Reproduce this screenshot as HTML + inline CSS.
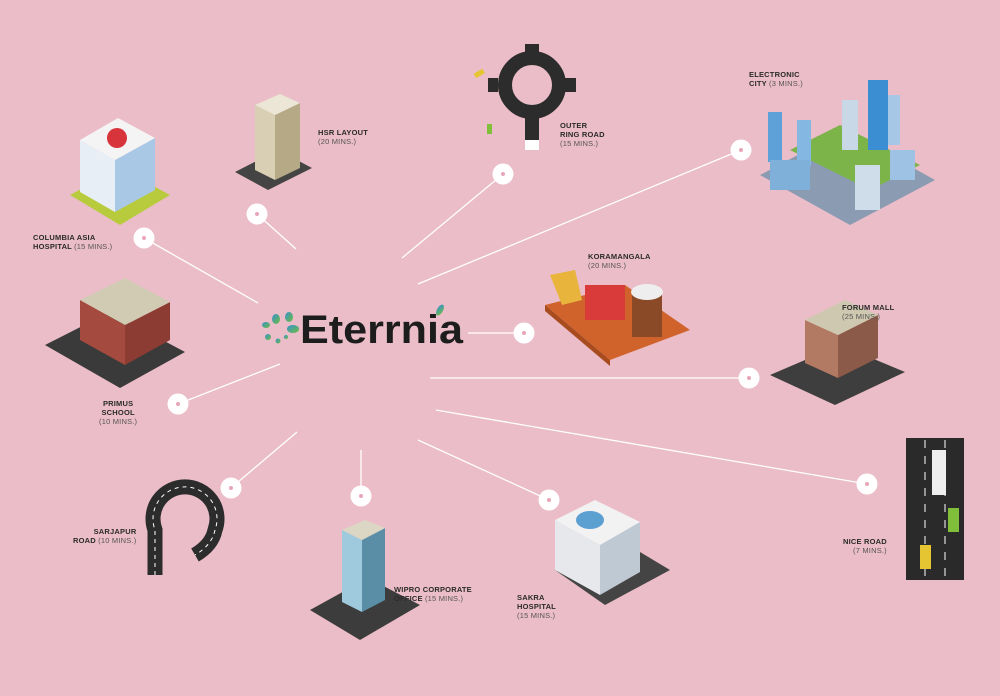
<!DOCTYPE html>
<html><head><meta charset="utf-8"><style>
html,body{margin:0;padding:0}
body{width:1000px;height:696px;background:#ebbdc8;overflow:hidden;position:relative;font-family:"Liberation Sans",sans-serif}
svg{position:absolute;left:0;top:0}
.l{position:absolute;font-size:7.5px;line-height:9px;color:#2b2b2b;font-weight:bold;letter-spacing:.2px}
.l span{font-weight:normal;color:#555}
</style></head><body>
<svg width="1000" height="696" viewBox="0 0 1000 696">
<defs>
<linearGradient id="g" x1="0" y1="0" x2="1" y2="1"><stop offset="0" stop-color="#3a8fd0"/><stop offset="1" stop-color="#6cbf3f"/></linearGradient>
</defs>
<g stroke="#fff" stroke-width="1.3" fill="none">
<line x1="144" y1="238" x2="258" y2="303"/>
<line x1="257" y1="214" x2="296" y2="249"/>
<line x1="503" y1="174" x2="402" y2="258"/>
<line x1="741" y1="150" x2="418" y2="284"/>
<line x1="468" y1="333" x2="524" y2="333"/>
<line x1="430" y1="378" x2="749" y2="378"/>
<line x1="436" y1="410" x2="867" y2="484"/>
<line x1="418" y1="440" x2="549" y2="500"/>
<line x1="361" y1="450" x2="361" y2="496"/>
<line x1="297" y1="432" x2="231" y2="488"/>
<line x1="280" y1="364" x2="178" y2="404"/>
</g>
<g fill="#fff">
<circle cx="144" cy="238" r="10.5"/><circle cx="257" cy="214" r="10.5"/><circle cx="503" cy="174" r="10.5"/>
<circle cx="741" cy="150" r="10.5"/><circle cx="524" cy="333" r="10.5"/><circle cx="749" cy="378" r="10.5"/>
<circle cx="867" cy="484" r="10.5"/><circle cx="549" cy="500" r="10.5"/><circle cx="361" cy="496" r="10.5"/>
<circle cx="231" cy="488" r="10.5"/><circle cx="178" cy="404" r="10.5"/>
</g>
<g fill="#e7a6b7">
<circle cx="144" cy="238" r="2"/><circle cx="257" cy="214" r="2"/><circle cx="503" cy="174" r="2"/>
<circle cx="741" cy="150" r="2"/><circle cx="524" cy="333" r="2"/><circle cx="749" cy="378" r="2"/>
<circle cx="867" cy="484" r="2"/><circle cx="549" cy="500" r="2"/><circle cx="361" cy="496" r="2"/>
<circle cx="231" cy="488" r="2"/><circle cx="178" cy="404" r="2"/>
</g>
<g fill="url(#g)">
<ellipse cx="276" cy="319" rx="4" ry="5"/><ellipse cx="289" cy="317" rx="4" ry="5"/>
<ellipse cx="266" cy="325" rx="4" ry="3"/><ellipse cx="293" cy="329" rx="6" ry="4"/>
<circle cx="268" cy="337" r="3"/><circle cx="278" cy="341" r="2.5"/><circle cx="286" cy="337" r="2"/>
<ellipse cx="440" cy="310" rx="3" ry="6" transform="rotate(30 440 310)"/>
</g>
<text x="300" y="343" font-family="Liberation Sans,sans-serif" font-size="40" font-weight="bold" fill="#1d1d1d" textLength="163" lengthAdjust="spacingAndGlyphs">Eterrnia</text>
<polygon points="70,195 120,225 170,195 120,168" fill="#b7cb3d"/>
<polygon points="80,140 115,160 115,212 80,192" fill="#e8eef5"/>
<polygon points="115,160 155,138 155,190 115,212" fill="#a9c8e6"/>
<polygon points="80,140 118,118 155,138 115,160" fill="#f4f4f4"/>
<circle cx="117" cy="138" r="10" fill="#d8343b"/>
<polygon points="235,172 268,190 312,168 278,150" fill="#444"/>
<polygon points="255,105 275,115 275,180 255,170" fill="#d8cfb5"/>
<polygon points="275,115 300,103 300,168 275,180" fill="#b5a986"/>
<polygon points="255,105 280,94 300,103 275,115" fill="#ece6d6"/>
<circle cx="532" cy="85" r="27" fill="none" stroke="#2c2c2c" stroke-width="14"/>
<rect x="488" y="78" width="10" height="14" fill="#2c2c2c"/><rect x="564" y="78" width="12" height="14" fill="#2c2c2c"/>
<rect x="525" y="110" width="14" height="30" fill="#2c2c2c"/><rect x="525" y="44" width="14" height="10" fill="#2c2c2c"/>
<rect x="525" y="140" width="14" height="10" fill="#fff"/>
<rect x="474" y="71" width="10" height="5" fill="#e6c532" transform="rotate(-30 479 73)"/>
<rect x="487" y="124" width="5" height="10" fill="#7fbf3a"/>
<polygon points="760,175 850,225 935,180 845,130" fill="#8a9bb2"/>
<polygon points="790,150 870,190 920,165 840,125" fill="#7cb44a"/>
<rect x="768" y="112" width="14" height="50" fill="#5ea0d8"/><rect x="797" y="120" width="14" height="46" fill="#84b8e2"/>
<rect x="842" y="100" width="16" height="50" fill="#c9d8e6"/><rect x="868" y="80" width="20" height="70" fill="#3c8ed3"/>
<rect x="888" y="95" width="12" height="50" fill="#a6c7e6"/><rect x="770" y="160" width="40" height="30" fill="#7fb0da"/>
<rect x="855" y="165" width="25" height="45" fill="#cfdcea"/><rect x="890" y="150" width="25" height="30" fill="#9ec2e4"/>
<polygon points="545,305 610,360 690,330 625,285" fill="#d0632c"/>
<polygon points="545,305 610,360 610,366 545,311" fill="#a84c20"/>
<polygon points="550,275 575,270 582,300 562,305" fill="#e8b43c"/>
<rect x="585" y="285" width="40" height="35" fill="#d93b3b"/>
<rect x="632" y="292" width="30" height="45" fill="#8a4a28"/><ellipse cx="647" cy="292" rx="16" ry="8" fill="#eee"/>
<polygon points="770,375 835,405 905,372 840,345" fill="#3e3e3e"/>
<polygon points="805,320 838,335 838,378 805,363" fill="#b27a63"/>
<polygon points="838,335 878,315 878,358 838,378" fill="#8b5a48"/>
<polygon points="805,320 845,300 878,315 838,335" fill="#cfc8b0"/>
<polygon points="45,345 120,388 185,352 110,312" fill="#3a3a3a"/>
<polygon points="80,300 125,325 125,365 80,340" fill="#a44a3f"/>
<polygon points="125,325 170,302 170,340 125,365" fill="#8d3c33"/>
<polygon points="80,300 125,278 170,302 125,325" fill="#d2cbb4"/>
<path d="M155,575 L155,530 A32,32 0 1 1 215,530 Q212,545 195,555" fill="none" stroke="#2c2c2c" stroke-width="15"/>
<path d="M155,575 L155,530 A32,32 0 1 1 215,530 Q212,545 195,555" fill="none" stroke="#fff" stroke-width="1" stroke-dasharray="4 4"/>
<polygon points="310,610 360,640 420,605 368,578" fill="#3c3c3c"/>
<polygon points="342,530 362,540 362,612 342,602" fill="#9fc9dc"/>
<polygon points="362,540 385,528 385,600 362,612" fill="#5a8ea6"/>
<polygon points="342,530 365,520 385,528 362,540" fill="#dcd6c4"/>
<polygon points="555,570 605,605 670,570 620,540" fill="#444"/>
<polygon points="555,520 600,545 600,595 555,570" fill="#e6e8ec"/>
<polygon points="600,545 640,522 640,572 600,595" fill="#bfc9d4"/>
<polygon points="555,520 595,500 640,522 600,545" fill="#f2f2f2"/>
<ellipse cx="590" cy="520" rx="14" ry="9" fill="#5c9fd1"/>
<rect x="906" y="438" width="58" height="142" fill="#2a2a2a"/>
<line x1="925" y1="440" x2="925" y2="578" stroke="#fff" stroke-dasharray="8 8"/>
<line x1="945" y1="440" x2="945" y2="578" stroke="#fff" stroke-dasharray="8 8"/>
<rect x="932" y="450" width="14" height="45" fill="#eee"/>
<rect x="948" y="508" width="11" height="24" fill="#7fbf3a"/>
<rect x="920" y="545" width="11" height="24" fill="#e6c532"/>
</svg>
<div class="l" style="left:33px;top:233px">COLUMBIA ASIA<br>HOSPITAL <span>(15 MINS.)</span></div>
<div class="l" style="left:318px;top:128px">HSR LAYOUT<br><span>(20 MINS.)</span></div>
<div class="l" style="left:560px;top:121px">OUTER<br>RING ROAD<br><span>(15 MINS.)</span></div>
<div class="l" style="left:749px;top:70px">ELECTRONIC<br>CITY <span>(3 MINS.)</span></div>
<div class="l" style="left:588px;top:252px">KORAMANGALA<br><span>(20 MINS.)</span></div>
<div class="l" style="left:842px;top:303px">FORUM MALL<br><span>(25 MINS.)</span></div>
<div class="l" style="left:99px;top:399px;text-align:center">PRIMUS<br>SCHOOL<br><span>(10 MINS.)</span></div>
<div class="l" style="left:73px;top:527px;text-align:right">SARJAPUR<br>ROAD <span>(10 MINS.)</span></div>
<div class="l" style="left:394px;top:585px">WIPRO CORPORATE<br>OFFICE <span>(15 MINS.)</span></div>
<div class="l" style="left:517px;top:593px">SAKRA<br>HOSPITAL<br><span>(15 MINS.)</span></div>
<div class="l" style="left:843px;top:537px;text-align:right">NICE ROAD<br><span>(7 MINS.)</span></div>
</body></html>
